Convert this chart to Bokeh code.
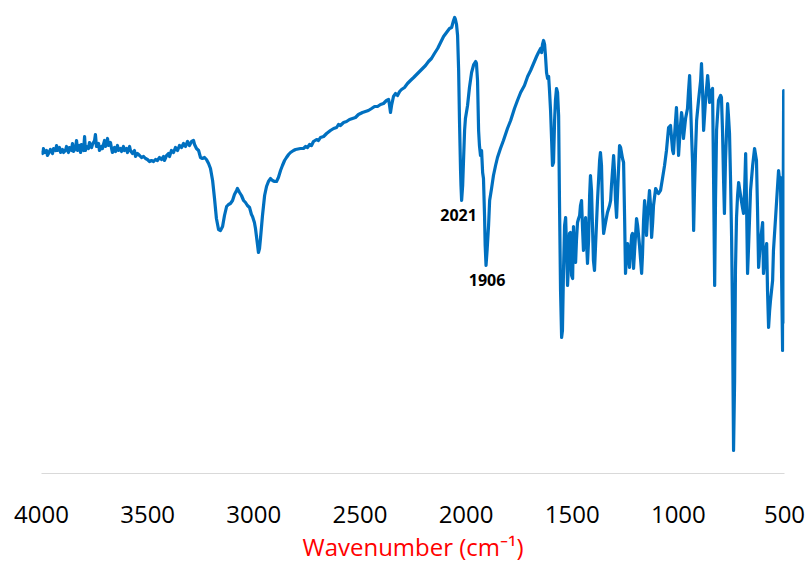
from bokeh.plotting import figure
from bokeh.models import Range1d, FixedTicker, ColumnDataSource
from bokeh.core.properties import value
from bokeh.embed import file_html
from bokeh.resources import INLINE

# FTIR spectrum: wavenumber (cm-1) and transmittance (a.u.)
wavenumber = [
    4000, 3995, 3991, 3986, 3976, 3972, 3962, 3958, 3948, 3943, 3934, 3929, 3925, 3915, 3910,
    3901, 3896, 3887, 3882, 3873, 3868, 3859, 3854, 3849, 3840, 3835, 3830, 3821, 3816, 3812,
    3802, 3797, 3793, 3788, 3779, 3774, 3764, 3760, 3750, 3746, 3741, 3731, 3727, 3717, 3713,
    3703, 3698, 3689, 3684, 3675, 3670, 3666, 3656, 3651, 3642, 3637, 3628, 3623, 3614, 3609,
    3600, 3595, 3585, 3581, 3571, 3562, 3557, 3548, 3538, 3529, 3519, 3510, 3501, 3491, 3482,
    3472, 3463, 3454, 3444, 3435, 3425, 3421, 3411, 3402, 3397, 3388, 3378, 3369, 3359, 3350,
    3340, 3331, 3322, 3312, 3303, 3293, 3284, 3279, 3270, 3260, 3251, 3242, 3232, 3223, 3213,
    3204, 3194, 3185, 3176, 3166, 3157, 3147, 3138, 3128, 3119, 3110, 3100, 3091, 3081, 3077,
    3067, 3058, 3048, 3039, 3030, 3020, 3011, 3006, 2997, 2992, 2982, 2978, 2973, 2968, 2959,
    2949, 2940, 2931, 2921, 2912, 2902, 2893, 2884, 2874, 2865, 2855, 2846, 2836, 2827, 2813,
    2803, 2780, 2766, 2756, 2747, 2737, 2728, 2719, 2704, 2695, 2686, 2671, 2657, 2639, 2624,
    2610, 2601, 2592, 2577, 2563, 2549, 2535, 2521, 2507, 2488, 2474, 2460, 2445, 2431, 2417,
    2403, 2389, 2375, 2365, 2361, 2356, 2351, 2342, 2332, 2323, 2313, 2304, 2290, 2276, 2262,
    2247, 2233, 2219, 2205, 2191, 2177, 2163, 2149, 2134, 2120, 2106, 2092, 2078, 2068, 2059,
    2054, 2050, 2045, 2040, 2035, 2031, 2026, 2024, 2021, 2016, 2012, 2007, 2003, 1993, 1984,
    1974, 1964, 1955, 1951, 1946, 1941, 1937, 1932, 1927, 1922, 1918, 1913, 1910, 1906, 1901,
    1894, 1889, 1880, 1871, 1861, 1852, 1838, 1824, 1805, 1790, 1772, 1758, 1743, 1725, 1710,
    1696, 1682, 1668, 1659, 1649, 1644, 1640, 1635, 1630, 1626, 1621, 1616, 1611, 1607, 1602,
    1597, 1593, 1588, 1583, 1579, 1574, 1569, 1564, 1560, 1555, 1550, 1546, 1541, 1536, 1531,
    1527, 1522, 1517, 1513, 1508, 1503, 1498, 1494, 1489, 1484, 1480, 1475, 1470, 1465, 1461,
    1456, 1451, 1447, 1442, 1437, 1433, 1428, 1423, 1418, 1414, 1409, 1404, 1400, 1395, 1390,
    1381, 1371, 1367, 1362, 1357, 1352, 1343, 1334, 1324, 1319, 1315, 1305, 1301, 1296, 1291,
    1286, 1277, 1272, 1263, 1258, 1253, 1249, 1244, 1239, 1235, 1230, 1225, 1220, 1216, 1211,
    1206, 1197, 1192, 1183, 1173, 1169, 1164, 1159, 1154, 1150, 1145, 1136, 1131, 1126, 1121,
    1117, 1107, 1098, 1093, 1084, 1074, 1065, 1056, 1046, 1037, 1027, 1023, 1018, 1009, 1004,
    999, 990, 985, 980, 976, 966, 957, 952, 947, 943, 938, 933, 928, 924, 919,
    914, 905, 895, 891, 886, 881, 872, 862, 858, 853, 848, 844, 839, 834, 829,
    825, 820, 811, 801, 797, 792, 787, 783, 778, 768, 764, 759, 754, 749, 745,
    740, 735, 731, 726, 721, 716, 707, 698, 693, 688, 683, 679, 674, 669, 660,
    650, 641, 632, 627, 622, 613, 603, 599, 594, 589, 584, 580, 575, 570, 566,
    556, 552, 542, 537, 528, 523, 519, 514, 509, 504, 500,
]
transmittance = [
    64.6, 64.0, 65.0, 64.2, 64.6, 63.6, 64.4, 64.8, 64.0, 65.0, 64.6, 65.6, 64.6, 65.2, 64.2,
    64.8, 64.2, 64.6, 65.4, 64.2, 65.2, 64.6, 66.0, 64.4, 65.0, 66.6, 64.6, 65.6, 64.2, 65.8,
    64.6, 67.4, 64.6, 65.4, 65.0, 66.2, 65.2, 65.8, 66.6, 67.8, 65.4, 66.0, 64.6, 65.4, 65.0,
    66.6, 65.4, 67.0, 65.6, 66.2, 65.0, 64.2, 65.2, 64.4, 65.6, 64.6, 65.0, 64.4, 65.4, 64.6,
    65.0, 64.2, 65.4, 64.6, 64.0, 64.6, 63.4, 64.0, 63.6, 63.2, 63.4, 63.0, 62.8, 62.4, 62.6,
    62.4, 62.8, 62.6, 63.2, 62.8, 63.4, 62.6, 63.6, 64.0, 63.4, 64.6, 64.2, 65.2, 64.6, 65.6,
    65.2, 66.0, 65.4, 66.4, 65.6, 66.4, 66.6, 65.8, 65.0, 64.6, 63.2, 63.0, 63.2, 62.8, 62.0,
    61.0, 58.6, 55.0, 51.0, 48.8, 48.6, 49.4, 51.6, 53.4, 53.8, 54.0, 54.6, 55.8, 56.6, 57.0,
    56.2, 55.6, 54.6, 54.2, 53.6, 53.2, 51.8, 51.4, 50.2, 49.0, 45.6, 44.2, 45.0, 47.2, 51.6,
    55.6, 57.4, 58.4, 59.0, 58.6, 58.4, 58.4, 59.2, 60.6, 61.6, 62.6, 63.2, 63.8, 64.2, 64.6,
    64.8, 65.0, 65.0, 65.4, 65.2, 65.8, 65.6, 66.4, 66.8, 66.6, 67.2, 67.4, 68.0, 68.6, 69.0,
    69.2, 69.8, 69.6, 70.2, 70.4, 70.8, 71.0, 71.2, 71.8, 72.2, 72.4, 72.6, 73.0, 73.4, 73.4,
    73.8, 74.0, 74.6, 74.8, 73.8, 72.2, 73.6, 75.4, 76.0, 75.6, 76.4, 76.8, 77.2, 78.0, 78.6,
    79.2, 79.8, 80.4, 81.0, 81.6, 82.4, 83.0, 84.0, 85.0, 86.2, 87.4, 88.2, 89.0, 89.2, 90.6,
    91.2, 90.8, 89.8, 87.6, 80.6, 70.6, 60.6, 57.6, 54.6, 57.6, 62.6, 68.6, 71.0, 73.6, 77.2,
    80.2, 81.8, 82.4, 82.0, 78.6, 68.6, 65.6, 63.6, 64.6, 60.2, 59.0, 51.6, 45.6, 41.6, 44.6,
    49.6, 54.6, 57.0, 59.6, 61.6, 63.2, 65.0, 66.6, 69.0, 70.6, 73.0, 74.6, 76.2, 77.6, 79.4,
    80.6, 82.0, 83.4, 84.2, 85.0, 84.2, 85.8, 86.6, 85.8, 83.6, 80.2, 79.0, 79.4, 76.6, 72.6,
    66.6, 61.6, 62.2, 70.6, 74.6, 77.0, 76.2, 71.6, 54.6, 36.6, 27.2, 28.6, 40.6, 49.6, 51.2,
    45.6, 37.6, 42.2, 48.0, 48.2, 39.6, 39.0, 49.4, 43.6, 42.2, 46.6, 50.2, 51.0, 51.6, 53.6,
    54.6, 48.6, 44.6, 47.6, 51.2, 46.6, 42.0, 46.6, 55.6, 59.6, 56.6, 48.6, 42.6, 40.6, 45.6,
    54.6, 62.6, 64.2, 61.6, 52.6, 48.0, 50.2, 52.2, 53.6, 54.6, 57.6, 63.6, 60.6, 54.6, 51.2,
    56.6, 65.6, 65.2, 63.0, 62.2, 50.6, 40.0, 43.6, 46.0, 43.6, 41.2, 44.6, 47.6, 48.0, 41.0,
    44.6, 51.0, 49.6, 45.6, 40.0, 43.6, 50.6, 54.6, 51.6, 47.6, 51.6, 56.6, 53.6, 47.2, 50.2,
    53.6, 57.0, 56.2, 56.0, 56.6, 59.2, 61.6, 64.6, 69.2, 69.6, 64.6, 64.0, 67.6, 73.2, 68.6,
    63.6, 69.6, 72.2, 70.6, 67.0, 71.0, 73.0, 76.6, 79.6, 74.6, 68.0, 62.0, 48.6, 56.6, 64.6,
    70.6, 74.6, 78.6, 82.0, 76.6, 68.6, 74.6, 79.6, 77.6, 74.2, 75.0, 76.6, 77.0, 58.6, 37.6,
    54.6, 68.6, 74.6, 75.6, 75.2, 68.6, 58.6, 52.0, 62.6, 74.0, 71.6, 68.0, 58.6, 46.6, 32.0,
    4.6, 18.6, 40.6, 51.2, 55.6, 58.2, 55.6, 53.2, 52.0, 56.6, 64.0, 54.6, 40.0, 45.6, 56.6,
    61.6, 65.0, 62.6, 52.6, 41.2, 46.6, 50.2, 40.0, 42.6, 44.6, 46.0, 36.6, 29.2, 32.6, 34.6,
    38.6, 44.6, 51.2, 54.6, 60.6, 58.6, 59.2, 40.6, 24.6, 76.6, 30.0,
]

# Assigned bands
band_positions = [2021, 1906]
band_labels = ["2021", "1906"]
band_label_shift = [-3, 1]

x_ticks = [4000, 3500, 3000, 2500, 2000, 1500, 1000, 500]

band_y = [transmittance[wavenumber.index(w)] for w in band_positions]

p = figure(
    width=811, height=567,
    x_range=Range1d(4000, 500), y_range=Range1d(0, 93.6),
    output_backend="svg", toolbar_location=None,
    min_border_left=41, min_border_right=27,
    min_border_top=5, min_border_bottom=94,
)
p.background_fill_color = "white"
p.border_fill_color = "white"
p.outline_line_color = None
p.grid.visible = False
p.yaxis.visible = False

p.line(wavenumber, transmittance, line_color="#0070C0", line_width=3.2,
       line_join="round")

src = ColumnDataSource(dict(x=band_positions, y=band_y, t=band_labels,
                            dx=band_label_shift))
p.text(x="x", y="y", text="t", x_offset="dx", y_offset=8, source=src,
       text_font=value("Open Sans"), text_font_style="bold",
       text_font_size="16px", text_color="black",
       text_align="center", text_baseline="top")

ax = p.xaxis[0]
ax.ticker = FixedTicker(ticks=x_ticks)
ax.axis_line_color = "#d9d9d9"
ax.axis_line_width = 1
ax.major_tick_line_color = None
ax.minor_tick_line_color = None
ax.major_label_standoff = 26
ax.major_label_text_font = "Open Sans"
ax.major_label_text_font_size = "24px"
ax.major_label_text_color = "black"
ax.axis_label = "Wavenumber (cm\u207b\u00b9)"
ax.axis_label_text_font = "Open Sans"
ax.axis_label_text_font_size = "24px"
ax.axis_label_text_font_style = "normal"
ax.axis_label_text_color = "#FF0000"
ax.axis_label_standoff = 4

open("out.html", "w").write(file_html(p, INLINE))
